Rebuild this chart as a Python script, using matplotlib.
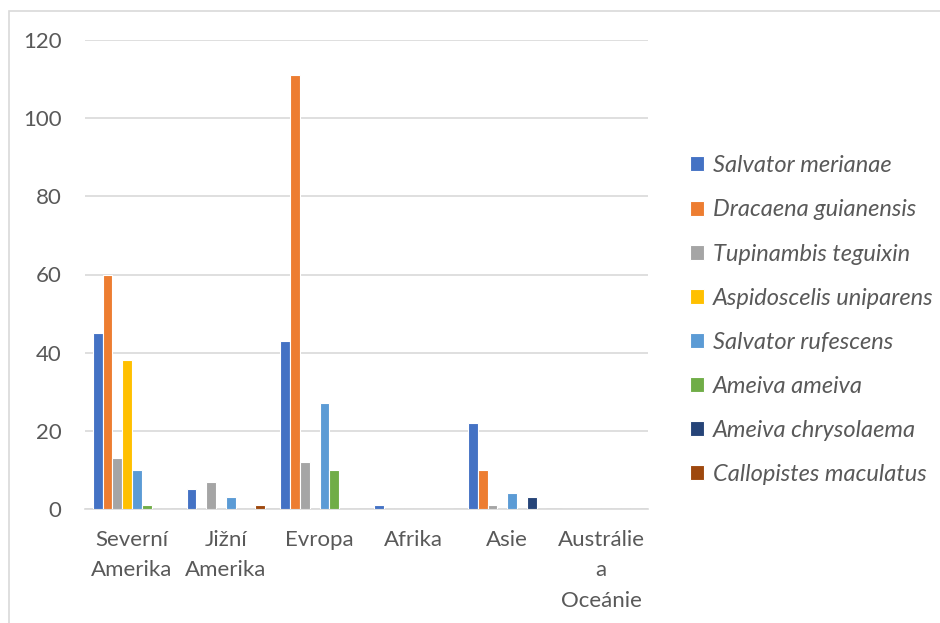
import matplotlib
matplotlib.use("Agg")
import matplotlib.pyplot as plt
import numpy as np

categories = ["Severní\nAmerika", "Jižní\nAmerika", "Evropa", "Afrika", "Asie", "Austrálie\na\nOceánie"]
series_names = ["Salvator merianae", "Dracaena guianensis", "Tupinambis teguixin",
                "Aspidoscelis uniparens", "Salvator rufescens", "Ameiva ameiva",
                "Ameiva chrysolaema", "Callopistes maculatus"]
salvator_merianae = [45, 5, 43, 1, 22, 0]
dracaena_guianensis = [60, 0, 111, 0, 10, 0]
tupinambis_teguixin = [13, 7, 12, 0, 1, 0]
aspidoscelis_uniparens = [38, 0, 0, 0, 0, 0]
salvator_rufescens = [10, 3, 27, 0, 4, 0]
ameiva_ameiva = [1, 0, 10, 0, 0, 0]
ameiva_chrysolaema = [0, 0, 0, 0, 3, 0]
callopistes_maculatus = [0, 1, 0, 0, 0, 0]
yticks = [0, 20, 40, 60, 80, 100, 120]

series = [salvator_merianae, dracaena_guianensis, tupinambis_teguixin, aspidoscelis_uniparens,
          salvator_rufescens, ameiva_ameiva, ameiva_chrysolaema, callopistes_maculatus]
colors = ["#4472C4", "#ED7D31", "#A5A5A5", "#FFC000", "#5B9BD5", "#70AD47", "#264478", "#9E480E"]

plt.rcParams['font.family'] = ['Lato', 'DejaVu Sans']
txt = "#595959"

fig = plt.figure(figsize=(9.4, 6.23), dpi=100)
ax = fig.add_axes([85/940, 1-509/623, (648-85)/940, (509-40)/623])

n = len(series)
x = np.arange(len(categories))
group = 0.835
w = group / n
for i, (vals, c, name) in enumerate(zip(series, colors, series_names)):
    ax.bar(x - group/2 + w*(i+0.5), vals, width=w, color=c, edgecolor="white",
           linewidth=0.8, label=name, zorder=3)

ax.set_xlim(-0.5, len(categories)-0.5)
ax.set_ylim(0, 120)
ax.set_yticks(yticks)
ax.yaxis.grid(True, color="#D9D9D9", linewidth=1.2, zorder=0)
for s in ["top", "right", "left"]:
    ax.spines[s].set_visible(False)
ax.spines["bottom"].set_color("#D9D9D9")
ax.spines["bottom"].set_linewidth(1.2)
ax.tick_params(axis="both", length=0, colors=txt, labelsize=16)
ax.tick_params(axis="y", pad=17)
ax.tick_params(axis="x", pad=15)
ax.set_xticks(x)
ax.set_xticklabels(categories, linespacing=1.65)
for lbl in ax.get_yticklabels():
    lbl.set_color(txt)

leg = fig.legend(loc="center left", bbox_to_anchor=(0.711, 0.486), frameon=False,
                 prop={"style": "italic", "size": 17}, labelcolor=txt,
                 handlelength=0.6, handleheight=0.6, handletextpad=0.4,
                 labelspacing=0.98)

# border
fig.add_artist(plt.Rectangle((9/940, -0.1), 1.2, 1 - 11/623 + 0.1, transform=fig.transFigure,
                             fill=False, edgecolor="#D9D9D9", linewidth=1.2))

fig.savefig("out.png", dpi=100, facecolor="white")
